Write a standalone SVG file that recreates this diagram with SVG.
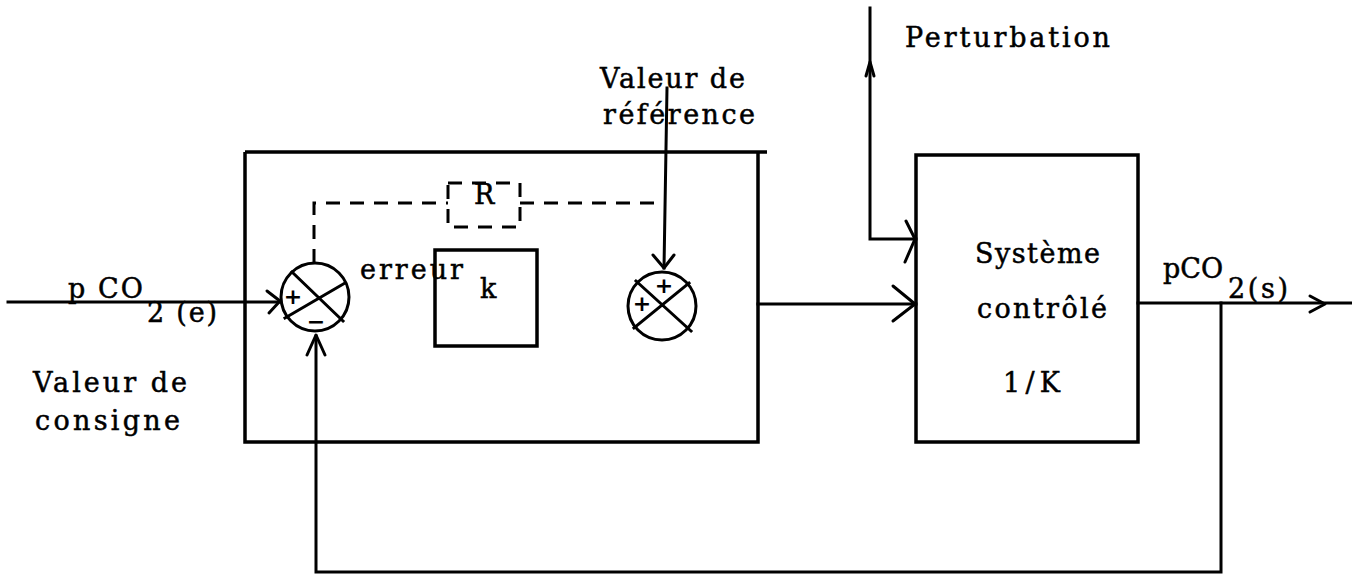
<svg xmlns="http://www.w3.org/2000/svg" width="1352" height="578" viewBox="0 0 1352 578">
<defs>
<style>
.ln{fill:none;stroke:#000;stroke-width:3;stroke-linecap:square;stroke-linejoin:miter}
.ah{fill:none;stroke:#000;stroke-width:3;stroke-linecap:round;stroke-linejoin:round}
.ds{fill:none;stroke:#000;stroke-width:3;stroke-dasharray:14 10}
.bx{fill:none;stroke:#000;stroke-width:3.5}
.t{font-family:"DejaVu Serif","Liberation Serif",serif;font-size:27px;fill:#000;stroke:#000;stroke-width:0.5}
.s{font-family:"DejaVu Sans","Liberation Sans",sans-serif;font-size:22px;font-weight:bold;fill:#000;text-anchor:middle}
</style>
</defs>
<rect width="1352" height="578" fill="#fff"/>

<g id="connectors">
  <!-- input -->
  <path class="ln" d="M8,302 L280,302"/>
  <path class="ah" d="M267,291 L280,301 L269,313"/>
  <!-- feedback -->
  <path class="ln" d="M1221,303 L1221,572 L316,572 L316,336"/>
  <path class="ah" d="M307,355 L316,335 L325,355"/>
  <!-- dashed feedback through R -->
  <path class="ds" d="M314,263 L314,203 L448,203"/>
  <path class="ds" d="M520,203 L666,203"/>
  <!-- reference -->
  <path class="ln" d="M667,88 L664,268"/>
  <path class="ah" d="M653,255 L664,268 L674,255"/>
  <!-- controller output to system -->
  <path class="ln" d="M758,304 L916,304"/>
  <path class="ah" d="M893,286 L915,304 L893,321"/>
  <!-- perturbation -->
  <path class="ln" d="M870,8 L870,239 L916,239"/>
  <path class="ah" d="M866,76 L870,62 L874,76"/>
  <path class="ah" d="M906,221 L915,239 L905,262"/>
  <!-- output -->
  <path class="ln" d="M1138,303 L1352,303"/>
  <path class="ah" d="M1310,296 L1325,304 L1310,312"/>
</g>

<g id="controller">
  <path class="bx" d="M245,152 L767,152 M758,152 L758,442 L245,442 L245,152"/>
</g>

<g id="sum1">
  <circle class="ln" cx="315" cy="297" r="34"/>
  <path class="ln" d="M292,272 L343,321 M285,318 L345,283"/>
  <text class="s" x="293" y="304">+</text>
  <text class="s" x="316" y="329">−</text>
</g>

<g id="sum2">
  <circle class="ln" cx="662" cy="306" r="34"/>
  <path class="ln" d="M636,281 L691,331 M634,328 L689,283"/>
  <text class="s" x="664" y="293">+</text>
  <text class="s" x="642" y="311">+</text>
</g>

<g id="R">
  <path class="ds" d="M448,183 L520,183 L520,227 L448,227 Z" stroke-dasharray="12 8"/>
  <text class="t" x="474" y="204">R</text>
</g>

<g id="k">
  <rect class="bx" x="435" y="250" width="102" height="96"/>
  <text class="t" x="480" y="298">k</text>
</g>

<g id="system">
  <rect class="bx" x="916" y="155" width="222" height="287"/>
  <text class="t" x="975" y="263" textLength="125" lengthAdjust="spacing">Système</text>
  <text class="t" x="977" y="318" textLength="130" lengthAdjust="spacing">contrôlé</text>
  <text class="t" x="1003" y="392" textLength="57" lengthAdjust="spacing">1/K</text>
</g>

<g id="labels">
  <text class="t" x="905" y="47" textLength="205" lengthAdjust="spacing">Perturbation</text>
  <text class="t" x="600" y="88" textLength="145" lengthAdjust="spacing">Valeur de</text>
  <text class="t" x="603" y="124" textLength="152" lengthAdjust="spacing">référence</text>
  <text class="t" x="68" y="298" textLength="75" lengthAdjust="spacing">p CO</text>
  <text class="t" x="147" y="322" textLength="70" lengthAdjust="spacing">2 (e)</text>
  <text class="t" x="33" y="392" textLength="154" lengthAdjust="spacing">Valeur de</text>
  <text class="t" x="35" y="430" textLength="145" lengthAdjust="spacing">consigne</text>
  <text class="t" x="360" y="279" textLength="103" lengthAdjust="spacing">erreur</text>
  <text class="t" x="1163" y="278">pCO</text>
  <text class="t" x="1228" y="298" textLength="60" lengthAdjust="spacing">2(s)</text>
</g>
</svg>
